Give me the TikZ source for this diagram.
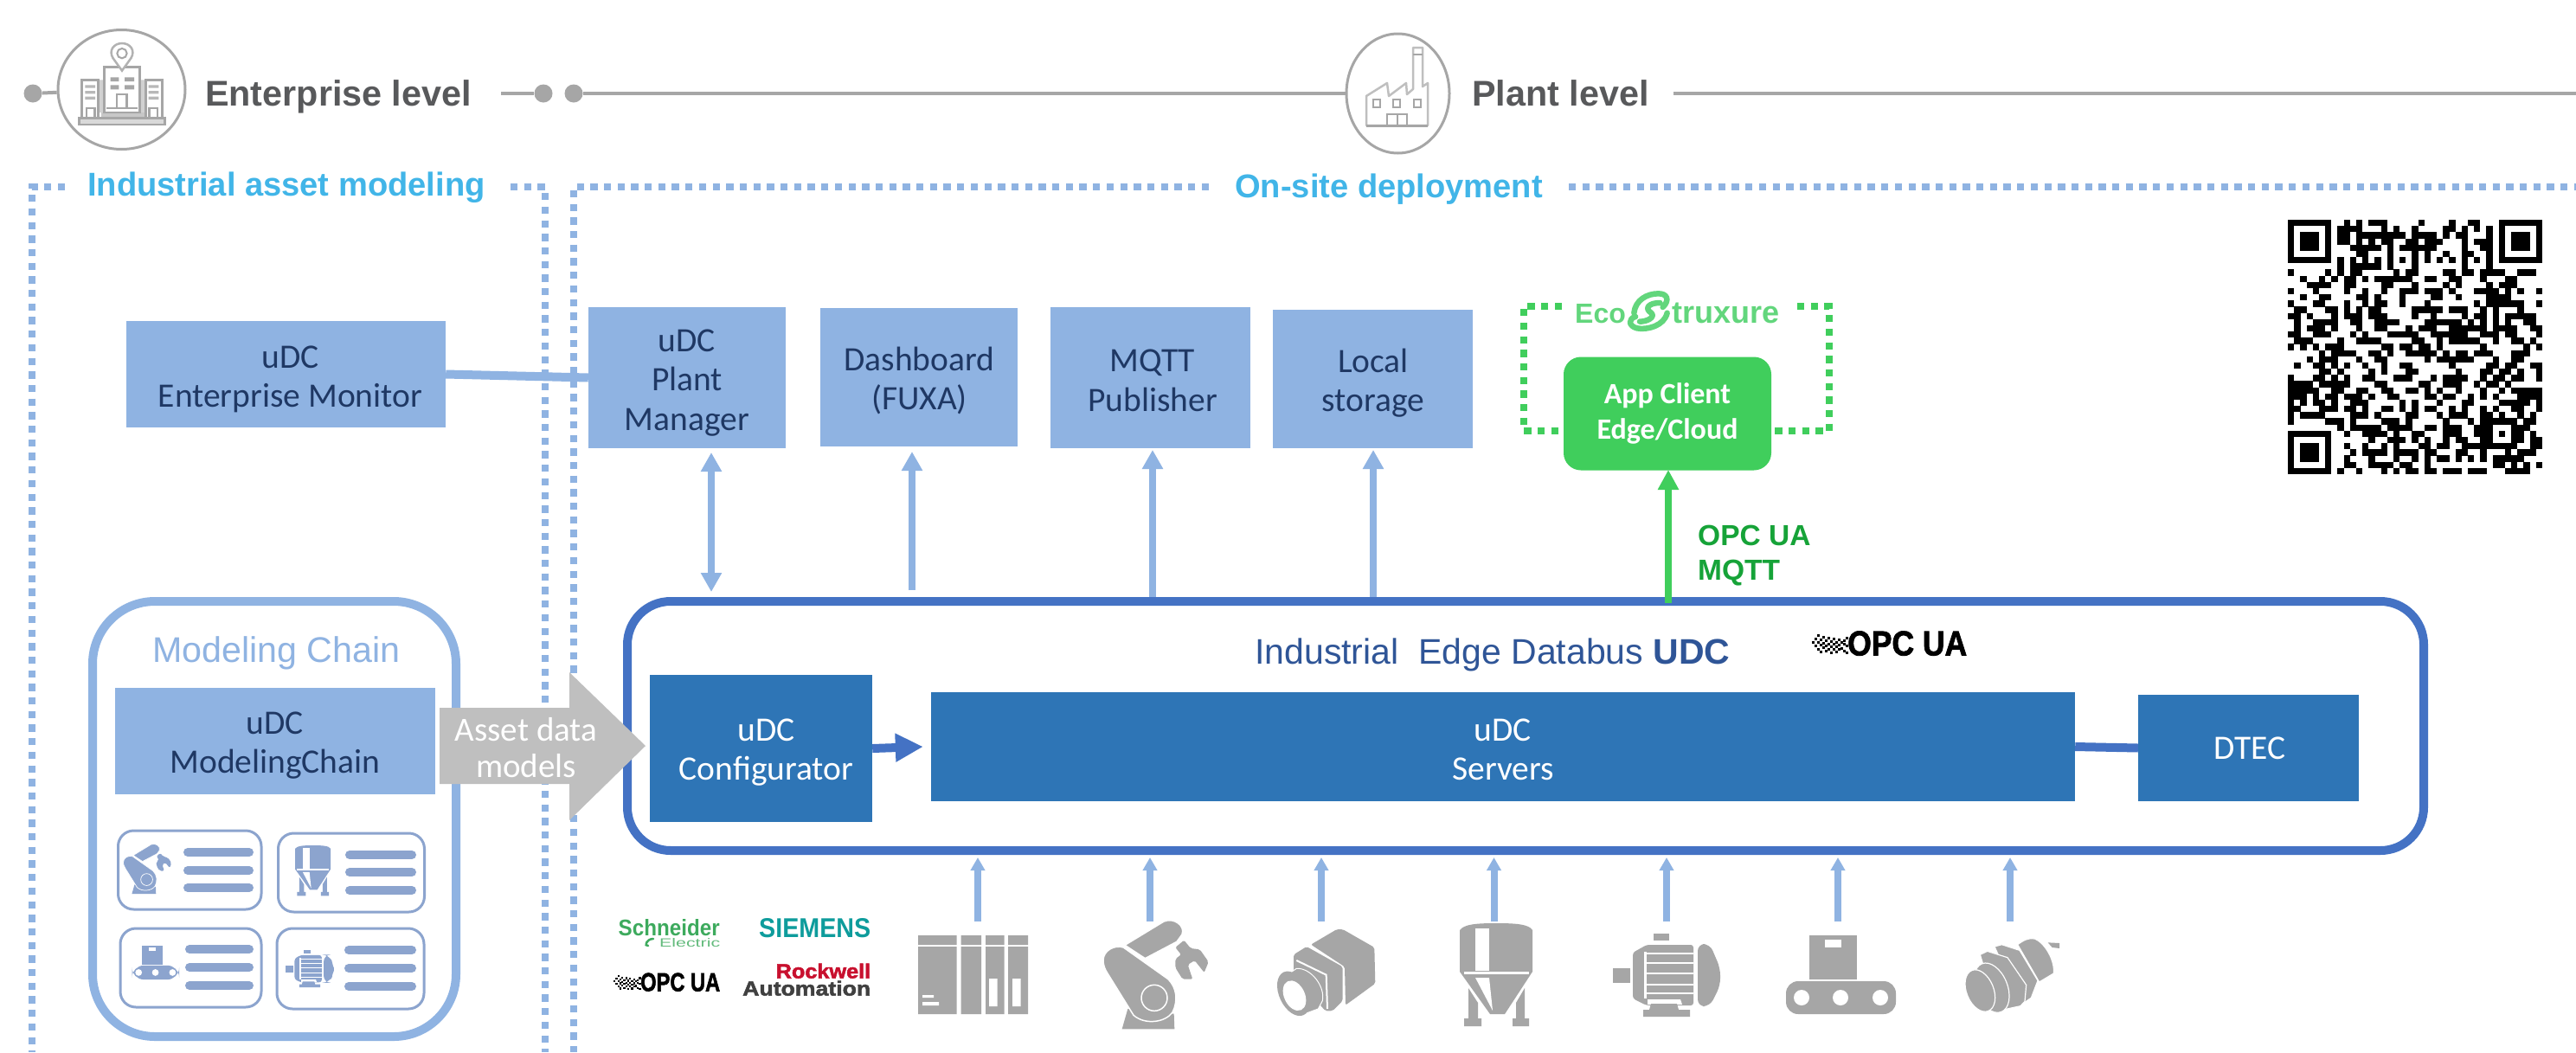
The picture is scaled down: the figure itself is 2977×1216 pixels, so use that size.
\documentclass[tikz,border=0pt]{standalone}
\usepackage{fontspec}
\usepackage{graphicx}
\setmainfont{Carlito}
\newfontfamily\lib{Liberation Sans}
\newfontfamily\libfat[BoldFeatures={FakeBold=2}]{Liberation Sans}
\usetikzlibrary{arrows.meta,shapes.geometric,calc}
\definecolor{boxlight}{HTML}{8FB3E2}
\definecolor{boxdark}{HTML}{2E75B6}
\definecolor{framec}{HTML}{4472C4}
\definecolor{navy}{HTML}{1F3864}
\definecolor{icong}{HTML}{A6A6A6}
\definecolor{headg}{HTML}{58595B}
\definecolor{cyanh}{HTML}{41B5E8}
\definecolor{titleb}{HTML}{2F5597}
\definecolor{arrg}{HTML}{BFBFBF}
\definecolor{appg}{HTML}{40CE5C}
\definecolor{labg}{HTML}{16A338}
\definecolor{ecog}{HTML}{62D67C}
\definecolor{smallic}{HTML}{8CA4CE}
\definecolor{schn}{HTML}{3DAA5D}
\definecolor{siem}{HTML}{0E9C9C}
\definecolor{rock}{HTML}{C8102E}
\definecolor{auto}{HTML}{404040}
\newcommand{\fsz}[2]{\fontsize{#1}{#2}\selectfont}
\tikzset{
  bl/.style={fill=boxlight,inner sep=0pt},
  bd/.style={fill=boxdark,inner sep=0pt},
  btxt/.style={text=navy,inner sep=0pt,align=center,font=\fsz{39.5}{45.5}},
  wtxt/.style={text=white,inner sep=0pt,align=center,font=\fsz{39.5}{45}},
  dots/.style={draw=boxlight,line width=8pt,dash pattern=on 8.3pt off 7.4pt},
  gdots/.style={draw=appg,line width=8pt,dash pattern=on 8.3pt off 7.4pt},
  level/.style={anchor=base west,text=headg,inner sep=0pt,font=\lib\bfseries\fsz{41.3}{46}},
  sect/.style={anchor=base west,text=cyanh,inner sep=0pt,font=\lib\bfseries\fsz{38.1}{44}},
  gline/.style={draw=icong,line width=4pt},
  gdot/.style={circle,fill=icong,minimum size=21pt,inner sep=0pt},
  lev/.style={ellipse,draw=icong,line width=3pt,fill=white,inner sep=0pt},
  upa/.style={draw=boxlight,line width=8pt,-{Triangle[length=22pt,width=23pt]}},
  upd/.style={draw=boxlight,line width=8pt,{Triangle[length=22pt,width=23pt]}-{Triangle[length=22pt,width=23pt]}},
  fld/.style={draw=boxlight,line width=8pt,-{Triangle[length=15pt,width=16pt]}},
  card/.style={draw=smallic,line width=3pt,rounded corners=18pt,inner sep=0pt},
  logo/.style={inner sep=0pt,anchor=south west}
}
% icons in local coordinates
\newcommand{\IconRobot}{%
  \fill[iconc] (130,318) -- (110,388) -- (292,388) -- (290,335) -- cycle;
  \fill[iconc,draw=white,line width=\ilw*1.5pt] (120,97) -- (255,15) .. controls (290,0) and (330,30) .. (318,60) -- (300,85) -- (190,143) -- cycle;
  \fill[iconc,draw=white,line width=\ilw*1.5pt] (45,150) .. controls (45,115) and (85,95) .. (115,105) -- (270,215) .. controls (300,245) and (305,290) .. (285,330) .. controls (260,365) and (190,375) .. (150,340) -- (60,195) .. controls (50,180) and (45,165) .. (45,150) -- cycle;
  \draw[white,line width=\ilw*1.5pt] (222,280) circle[radius=45];
  \fill[iconc,rounded corners=2pt] (295,105) -- (325,80) -- (348,108) -- (380,112) -- (410,155) -- (395,192) -- (362,150) -- (338,165) -- (355,215) -- (320,215) -- (295,175) -- (295,145) -- (315,130) -- cycle;
}
\newcommand{\IconCamera}{%
  \fill[iconc,rounded corners=2pt] (165,95) -- (255,42) -- (275,42) -- (385,105) -- (388,230) -- (285,305) -- (282,172) -- cycle;
  \fill[iconc,rounded corners=2pt] (105,130) -- (150,102) -- (275,172) -- (275,290) -- (240,325) -- (215,325) -- (105,200) -- cycle;
  \draw[white,line width=\ilw*2pt] (115,150) -- (218,200) -- (222,318);
  \fill[iconc,draw=white,line width=\ilw*1pt] (90,195) -- (115,178) .. controls (165,175) and (215,240) .. (205,290) -- (190,318) -- (130,340) -- cycle;
  \fill[iconc,rotate around={25:(105,265)}] (105,265) ellipse[x radius=50,y radius=82];
  \fill[white,rotate around={25:(108,272)}] (108,272) ellipse[x radius=36,y radius=55];
}
\newcommand{\IconSensor}{%
  \fill[iconc] (320,58) -- (360,60) -- (360,78) -- (335,75) -- cycle;
  \fill[iconc,draw=white,line width=\ilw*1.2pt] (215,65) .. controls (235,50) and (255,40) .. (275,45) .. controls (310,60) and (345,120) .. (340,165) -- (290,195) -- cycle;
  \fill[iconc,draw=white,line width=\ilw*1.2pt] (135,72) -- (160,65) -- (222,85) -- (285,190) -- (262,250) -- (240,265) -- (170,150) -- cycle;
  \fill[iconc,draw=white,line width=\ilw*1.2pt] (85,100) -- (110,88) -- (180,110) -- (245,205) -- (240,262) -- (225,278) -- (170,290) -- (100,150) -- cycle;
  \fill[iconc,draw=white,line width=\ilw*1.2pt,rotate around={22:(125,215)}] (125,215) ellipse[x radius=55,y radius=90];
  \fill[iconc,draw=white,line width=\ilw*1.2pt,rotate around={22:(85,225)}] (85,225) ellipse[x radius=47,y radius=76];
}
\newcommand{\IconPLC}{%
  \fill[iconc] (0,0) rectangle (44.5,11) (0,13) rectangle (44.5,91);
  \fill[iconc] (49.6,0) rectangle (73,11) (49.6,13) rectangle (73,91);
  \fill[iconc] (78,0) rectangle (99.6,11) (78,13) rectangle (99.6,91);
  \fill[iconc] (104,0) rectangle (127,11) (104,13) rectangle (127,91);
  \fill[white] (82,50) rectangle (91.5,82) (109,50) rectangle (118.5,82);
  \fill[white] (5,69) rectangle (18,72) (5,77) rectangle (24,81);
}
\newcommand{\IconSilo}{%
  \fill[iconc] (0,8) .. controls (5,1) and (20,0) .. (42,0) .. controls (64,0) and (80,1) .. (84,8) -- (84,56) -- (52,105) -- (35,105) -- (0,56) -- cycle;
  \fill[white] (18,6) rectangle (34,55);
  \fill[white] (5,55.5) rectangle (80,59);
  \fill[white] (18,63) -- (34,63) -- (38,101) -- cycle;
  \fill[iconc] (10,75) -- (10,110) -- (5,110) -- (5,119) -- (25,119) -- (25,110) -- (21,110) -- (21,92) -- cycle;
  \fill[iconc] (75,75) -- (75,110) -- (80,110) -- (80,119) -- (61,119) -- (61,110) -- (65,110) -- (65,92) -- cycle;
}
\newcommand{\IconMotor}{%
  \fill[iconc] (47,0) rectangle (65,8);
  \fill[iconc] (0,40) rectangle (20,57);
  \fill[iconc,rounded corners=3pt] (23,22) -- (39,13) -- (93,13) -- (93,83) -- (39,83) -- (23,75) -- cycle;
  \fill[iconc,rounded corners=8pt] (98,12) -- (112,12) -- (124,40) -- (124,60) -- (112,84) -- (98,84) -- cycle;
  \draw[white,line width=\ilw*2.5pt] (39,23) -- (93,23) (39,34) -- (93,34) (39,46) -- (93,46) (39,59) -- (93,59) (39,69) -- (93,69);
  \fill[white] (36,21) rectangle (39,75);
  \fill[white] (40,76) -- (78,76) -- (80,82) -- (40,82) -- cycle;
  \fill[iconc] (44,81) -- (74,81) -- (76,88) -- (89,88) -- (89,96) -- (35,96) -- (35,88) -- (42,88) -- cycle;
}
\newcommand{\IconConveyor}{%
  \fill[iconc] (27,0) rectangle (82,51);
  \fill[white] (45,5) rectangle (64,14);
  \fill[iconc,rounded corners=14pt] (0,53) rectangle (127,91);
  \fill[white] (18,72) circle[radius=9] (63,72) circle[radius=9] (109,72) circle[radius=9];
}
\newcommand{\PlaceIcon}[6]{\begin{scope}[shift={(#2,#3)},scale=#4]\colorlet{iconc}{#5}\def\ilw{#6}#1\end{scope}}
\newcommand{\OpcNoise}{%
  \foreach \nx/\ny in {0/8,3/4,3/12,6/0,6/8,6/16,9/5,9/11,9/19,12/2,12/9,12/14,15/6,15/12,15/18,18/3,18/10,18/16,21/7,21/13,21/20,24/4,24/10,24/16,27/8,27/13,27/19,30/5,30/11,30/16,33/8,33/15,36/6,36/10,36/18,39/3,39/12,39/20}
    {\fill[black] (\nx,\ny) rectangle ++(3.3,3.3);}
}
\newcommand{\qrrow}[2]{\foreach \qa/\qb in {#2}{\fill[black] (\qa,#1) rectangle ({\qb+1.02},{#1+1.02});}}
\newcommand{\finder}[2]{\fill[black] (#1,#2) rectangle ++(7,7);\fill[white] ({#1+1},{#2+1}) rectangle ++(5,5);\fill[black] ({#1+2},{#2+2}) rectangle ++(3,3);}
\begin{document}
\begin{tikzpicture}[x=1pt,y=-1pt]
\useasboundingbox (0,0) rectangle (2977,1216);
\fill[white] (0,0) rectangle (2977,1216);

% ---- level line
\node[gdot] (d1) at (38,108) {};
\node[gdot] (d2) at (628,108) {};
\node[gdot] (d3) at (663,108) {};
\node[lev,minimum width=147pt,minimum height=138pt] (ec) at (140.5,103.5) {};
\node[lev,minimum width=119pt,minimum height=138pt] (pc) at (1615.5,108) {};
\coordinate (l1) at (579,108);
\coordinate (l2) at (1934,108);
\coordinate (l3) at (2977,108);
\draw[gline] (d1) -- (ec);
\draw[gline] (l1) -- (d2);
\draw[gline] (d3) -- (pc);
\draw[gline] (l2) -- (l3);
\node[level] (enttxt) at (237,122.7) {Enterprise level};
\node[level] (plttxt) at (1701,122.7) {Plant level};

% enterprise icon
\begin{scope}[shift={(60,30)},scale=1/3]
  \fill[black!18] (160,187) rectangle (182,300) (305,187) rectangle (325,300);
  \fill[black!22] (170,300) rectangle (320,320);
  \draw[icong,line width=2.5pt,fill=white] (182,143) rectangle (305,300);
  \draw[icong,line width=2.5pt,fill=white] (103,187) rectangle (160,318);
  \draw[icong,line width=2.5pt,fill=white] (325,187) rectangle (382,318);
  \draw[icong,line width=2.5pt,fill=black!15] (95,320) rectangle (392,342);
  \fill[icong] (203,178) rectangle (232,192) (252,178) rectangle (285,192) (203,205) rectangle (232,220) (252,205) rectangle (285,220);
  \draw[icong,line width=2.5pt] (225,285) -- (225,237) -- (260,237) -- (260,285) (190,285) -- (297,285);
  \foreach \wy in {205,225,245}{\fill[black!28] (115,\wy) rectangle (150,\wy+10) (335,\wy) rectangle (370,\wy+10);}
  \draw[icong,line width=2.5pt] (120,318) -- (120,285) -- (148,285) -- (148,318) (338,318) -- (338,285) -- (366,285) -- (366,318);
  \draw[black!30,line width=2.5pt,fill=white] (243,155) -- (212,112) .. controls (195,85) and (215,60) .. (243,60) .. controls (271,60) and (291,85) .. (274,112) -- cycle;
  \draw[icong,line width=2pt] (243,95) circle[radius=17];
\end{scope}

% plant icon
\draw[black!25,line width=2.5pt,line join=round] (1579,145) -- (1579,111) -- (1603,96) -- (1605,111) -- (1625,96) -- (1626,109) -- (1633,103) -- (1633,55) -- (1644,55) -- (1644,100) -- (1650,96) -- (1650,145) -- cycle;
\draw[icong,line width=2pt] (1633,63) -- (1644,63);
\draw[icong,line width=2pt] (1587,115) rectangle (1595,124) (1610,115) rectangle (1618,124) (1634,115) rectangle (1642,124);
\draw[icong,line width=2pt] (1603,145) -- (1603,132) -- (1626,132) -- (1626,145) (1614.5,132) -- (1614.5,145);
\draw[icong,line width=3pt] (1579,145) -- (1650,145);

% ---- dotted section frames
\draw[dots] (75,216) -- (37,216) -- (37,1216);
\draw[dots] (590,216) -- (630,216) -- (630,1216);
\draw[dots] (1397,216) -- (663,216) -- (663,1216);
\draw[dots] (1813,216) -- (2977,216);
\node[sect] (s1) at (101,226.5) {Industrial asset modeling};
\node[sect] (s2) at (1427,228) {On-site deployment};

% ---- upper service boxes
\node[bl,minimum width=369pt,minimum height=123pt] (ent) at (330.5,432.5) {};
\node[btxt] (entl) at (335.5,438.5) {uDC\\Enterprise Monitor};
\node[bl,minimum width=228pt,minimum height=163pt] (pm) at (794,436.5) {};
\node[btxt] (pml) at (794,442.5) {uDC\\Plant\\Manager};
\node[bl,minimum width=228pt,minimum height=160pt] (dash) at (1062,436) {};
\node[btxt] (dashl) at (1062.5,440) {Dashboard\\(FUXA)};
\node[bl,minimum width=231pt,minimum height=163pt] (mqtt) at (1329.5,436.5) {};
\node[btxt] (mqttl) at (1332,440) {MQTT\\Publisher};
\node[bl,minimum width=231pt,minimum height=160pt] (local) at (1586.5,438) {};
\node[btxt] (locall) at (1587,442.5) {Local\\storage};
\draw[draw=boxlight,line width=10pt] (ent.east) -- (pm.west);

% ---- ecostruxure
\draw[gdots] (1805,354) -- (1761,354) -- (1761,498) -- (1807,498);
\draw[gdots] (2077,354) -- (2114,354) -- (2114,498) -- (2047,498);
\node[fill=appg,text=white,rounded corners=20pt,minimum width=240pt,minimum height=131pt,inner sep=0pt,align=center,font=\bfseries\fsz{34}{41}] (app) at (1927,478) {App Client\\Edge/Cloud};
\node[anchor=base west,inner sep=0pt,text=ecog,font=\lib\bfseries\fsz{32}{36}] (eco) at (1820,373) {Eco};
\node[anchor=base west,inner sep=0pt,text=ecog,font=\lib\bfseries\fsz{36}{40}] (trux) at (1932,373) {truxure};
\begin{scope}[shift={(1740,330)},scale=1/3]
  \draw[ecog,line width=6.5pt,line cap=round,line join=round]
    (445,95) .. controls (450,50) and (490,28) .. (530,28) .. controls (560,28) and (570,50) .. (545,75)
    (560,95) .. controls (550,140) and (490,155) .. (455,148) .. controls (425,140) and (425,115) .. (450,108)
    (535,60) .. controls (495,60) and (480,80) .. (505,95) .. controls (520,110) and (490,125) .. (465,125);
\end{scope}

% ---- modeling chain
\node[draw=boxlight,line width=10pt,rounded corners=72pt,minimum width=420pt,minimum height=503pt,inner sep=0pt] (mc) at (317,946.5) {};
\node[anchor=base west,inner sep=0pt,text=boxlight,font=\lib\fsz{41.2}{46}] (mctxt) at (176,765) {Modeling Chain};
\node[bl,minimum width=370pt,minimum height=123pt] (mcb) at (318,856.5) {};
\node[btxt] (mcl) at (318,861.5) {uDC\\ModelingChain};

\node[card,minimum width=165.5pt,minimum height=91pt] (c1) at (219.25,1005.5) {};
\node[card,minimum width=169pt,minimum height=91pt] (c2) at (406,1008.5) {};
\node[card,minimum width=163pt,minimum height=91pt] (c3) at (220.5,1118.5) {};
\node[card,minimum width=170pt,minimum height=93pt] (c4) at (405,1119.5) {};
\foreach \bx/\bex/\by in {217/288/985,217/288/1006,217/288/1026,404/476/988,404/476/1008,404/476/1029,219/288/1097,219/288/1118,219/288/1139,403/476/1098,403/476/1119,403/476/1140}
  {\draw[smallic,line width=10pt,line cap=round] (\bx,\by) -- (\bex,\by);}
\PlaceIcon{\IconRobot}{135.6}{973.7}{0.153}{smallic}{0.46}
\PlaceIcon{\IconSilo}{341}{977}{0.49}{smallic}{0.49}
\PlaceIcon{\IconConveyor}{152.5}{1093}{0.43}{smallic}{0.43}
\PlaceIcon{\IconMotor}{330}{1098}{0.45}{smallic}{0.45}

% ---- databus frame
\node[draw=framec,line width=10pt,rounded corners=50pt,minimum width=2076pt,minimum height=288pt,inner sep=0pt] (bus) at (1763,839) {};
\node[anchor=base west,inner sep=0pt,text=titleb,font=\lib\fsz{41}{46}] (bustxt) at (1450,767) {Industrial\ \ Edge Databus {\bfseries UDC}};
\node[bd,minimum width=257pt,minimum height=170pt] (cfg) at (879.5,865) {};
\node[wtxt] (cfgl) at (885.5,870) {uDC\\Configurator};
\node[bd,minimum width=1322pt,minimum height=126pt] (srv) at (1737,863) {};
\node[wtxt] (srvl) at (1737,866) {uDC\\Servers};
\node[bd,minimum width=255pt,minimum height=123pt] (dtec) at (2598.5,864.5) {};
\node[wtxt] (dtecl) at (2600,865) {DTEC};
\draw[draw=framec,line width=10pt,-{Triangle[length=32pt,width=31pt]}] (cfg.east) -- ([xshift=-9pt]srv.west);
\draw[draw=framec,line width=10pt] (srv.east) -- (dtec.west);

% OPC UA logo in frame
\node[logo,font=\libfat\bfseries] (opc1) at (2135,758) {\resizebox{138pt}{28pt}{OPC UA}};
\begin{scope}[shift={(2094,733)}]\OpcNoise\end{scope}

% ---- arrows to upper services
\coordinate (t1) at (822,523);  \coordinate (b1) at (822,684);
\coordinate (t2) at (1054,522); \coordinate (b2) at (1054,682);
\coordinate (t3) at (1332,520); \coordinate (b3) at (1332,690);
\coordinate (t4) at (1587,520); \coordinate (b4) at (1587,690);
\coordinate (t5) at (1928,543); \coordinate (b5) at (1928,697);
\draw[upd] (b1) -- (t1);
\draw[upa] (b2) -- (t2);
\draw[upa] (b3) -- (t3);
\draw[upa] (b4) -- (t4);
\draw[draw=appg,line width=8pt,-{Triangle[length=23pt,width=23pt]}] (b5) -- (t5);
\node[anchor=base west,inner sep=0pt,text=labg,align=left,font=\lib\bfseries\fsz{33.5}{40}] (opcl) at (1962,670) {OPC UA\\MQTT};

% ---- field arrows and devices
\foreach \fx/\fn in {1130/a,1329/b,1527/c,1726.5/d,1926/e,2124/f,2323/g}{
  \coordinate (f\fn b) at (\fx,1065);
  \coordinate (f\fn t) at (\fx,991);
  \draw[fld] (f\fn b) -- (f\fn t);
}
\PlaceIcon{\IconPLC}{1061}{1081}{1}{icong}{1}
\PlaceIcon{\IconRobot}{1260}{1060}{0.3333}{icong}{1}
\PlaceIcon{\IconCamera}{1460}{1060}{0.3333}{icong}{1}
\PlaceIcon{\IconSilo}{1687}{1067}{1}{icong}{1}
\PlaceIcon{\IconMotor}{1864}{1079}{1}{icong}{1}
\PlaceIcon{\IconConveyor}{2064}{1081}{1}{icong}{1}
\PlaceIcon{\IconSensor}{2260}{1070}{0.3333}{icong}{1}

% ---- vendor logos
\node[logo,text=schn,font=\lib\bfseries] (lschn) at (714.5,1082) {\resizebox{117pt}{19pt}{Schneider}};
\node[logo,text=schn!80,font=\lib] (lelec) at (762,1095) {\resizebox{70pt}{10pt}{Electric}};
\draw[schn,line width=2.5pt,line cap=round] (749,1093) .. controls (744,1094) and (747,1085) .. (755,1085);
\node[logo,text=siem,font=\lib\bfseries] (lsie) at (877,1084) {\resizebox{129pt}{22pt}{SIEMENS}};
\node[logo,font=\libfat\bfseries] (lopc) at (740,1146) {\resizebox{92pt}{21pt}{OPC UA}};
\begin{scope}[shift={(709,1127)},scale=.75]\OpcNoise\end{scope}
\node[logo,text=rock,font=\libfat\bfseries] (lrock) at (896.5,1131) {\resizebox{109.5pt}{17pt}{Rockwell}};
\node[logo,text=auto,font=\libfat\bfseries] (lauto) at (858,1151) {\resizebox{148pt}{17pt}{Automation}};

% ---- asset data block arrow (over frames)
\fill[arrg] (508,818) -- (658,818) -- (658,777) -- (746,862) -- (658,948) -- (658,906) -- (508,906) -- cycle;
\node[inner sep=0pt,text=white,align=center,font=\fsz{39}{42}] (asset) at (608,864) {Asset data\\models};

% ---- QR code
\begin{scope}[shift={(2644,254)},scale=7.17]
\finder{0}{0}\finder{34}{0}\finder{0}{34}
\qrrow{0}{9/9,11/11,13/15,21/21,26/26,29/30}
\qrrow{1}{8/11,15/15,17/17,20/20,25/26,28/28,30/30,32/32}
\qrrow{2}{8/9,11/18,20/23,25/25,27/28,32/32}
\qrrow{3}{8/9,11/11,13/13,15/16,19/20,22/24,28/28,30/32}
\qrrow{4}{10/14,16/16,18/23,28/28,31/32}
\qrrow{5}{11/12,16/16,20/20,22/22,25/25,28/29,32/32}
\qrrow{6}{8/8,10/10,12/12,14/14,16/16,18/18,20/20,22/22,24/24,26/26,28/28,30/30,32/32}
\qrrow{7}{8/8,10/14,16/16,20/20,28/28,32/32}
\qrrow{8}{0/0,6/6,8/8,10/11,17/17,19/20,25/26,28/29,31/34,37/39}
\qrrow{9}{2/2,5/5,7/7,9/10,12/12,14/19,22/23,26/27,31/31,35/36}
\qrrow{10}{3/6,9/10,15/16,20/20,25/25,27/27,32/32,34/36}
\qrrow{11}{0/0,4/4,9/9,12/12,15/15,18/20,22/24,26/26,30/33,35/35,37/37,40/40}
\qrrow{12}{2/2,5/6,11/12,14/14,18/18,23/24,27/27,32/35}
\qrrow{13}{0/0,4/5,9/9,12/12,14/15,18/18,22/22,30/30,32/37,40/40}
\qrrow{14}{1/2,6/7,9/9,11/11,13/14,20/24,26/28,31/31,33/33,37/37}
\qrrow{15}{0/1,3/3,7/7,9/11,13/15,20/20,23/23,28/28,30/31,33/33,35/39}
\qrrow{16}{1/1,4/7,10/11,14/17,22/27,29/29,31/31,33/33,35/35,38/39}
\qrrow{17}{1/1,3/5,7/7,11/11,14/15,19/19,21/23,26/31,33/36,39/40}
\qrrow{18}{0/1,4/6,10/10,12/12,16/20,23/28,31/33,35/36,40/40}
\qrrow{19}{1/3,8/8,11/14,20/21,24/24,26/30,33/33,36/37,39/39}
\qrrow{20}{0/0,2/2,4/4,6/8,15/16,18/19,21/22,24/24,31/31,38/38,40/40}
\qrrow{21}{5/5,7/10,13/14,16/16,19/23,25/25,27/28,30/32,36/38}
\qrrow{22}{3/3,5/7,11/11,14/15,22/22,24/29,33/33,36/37}
\qrrow{23}{1/1,4/5,7/7,9/9,12/12,15/15,18/19,26/26,32/33,35/36,39/40}
\qrrow{24}{5/6,8/8,13/13,15/15,19/20,27/27,31/32,34/35,37/37,40/40}
\qrrow{25}{0/0,4/5,7/7,9/9,12/13,17/19,23/23,25/28,31/31,33/34,36/37,40/40}
\qrrow{26}{0/3,5/9,14/15,21/22,25/27,30/30,32/33,35/35}
\qrrow{27}{0/4,7/8,11/12,15/16,19/20,22/22,24/24,27/27,31/31,34/34,36/40}
\qrrow{28}{0/2,4/4,6/7,9/11,13/13,16/17,22/23,25/26,29/29,31/31,33/33,37/40}
\qrrow{29}{0/0,2/2,4/5,7/7,10/12,18/18,20/20,24/24,28/29,34/38,40/40}
\qrrow{30}{0/1,5/7,9/10,12/12,15/16,18/18,20/20,22/23,26/26,28/28,31/31,33/33,36/37,40/40}
\qrrow{31}{0/0,2/5,10/12,14/14,19/20,24/24,26/28,31/32,34/34,37/37,39/39}
\qrrow{32}{0/0,6/8,10/10,15/17,19/19,25/25,29/29,31/36,38/39}
\qrrow{33}{8/8,10/14,16/19,22/23,25/27,30/32,36/38}
\qrrow{34}{9/9,12/15,17/17,20/21,25/27,30/32,34/34,36/37,39/39}
\qrrow{35}{13/13,16/18,20/20,22/22,25/25,27/28,31/32,36/37,39/40}
\qrrow{36}{9/9,12/12,15/15,17/17,21/22,24/25,28/36,39/40}
\qrrow{37}{10/10,12/15,17/20,22/23,27/28,31/31,35/35,37/39}
\qrrow{38}{9/9,13/13,17/17,20/20,22/22,24/25,27/27,29/29,31/31,33/37}
\qrrow{39}{9/10,13/16,18/19,22/22,33/34,36/36,38/38,40/40}
\qrrow{40}{8/8,11/11,15/15,17/17,19/20,22/23,25/27,29/31,35/38}
\end{scope}
\end{tikzpicture}
\end{document}
